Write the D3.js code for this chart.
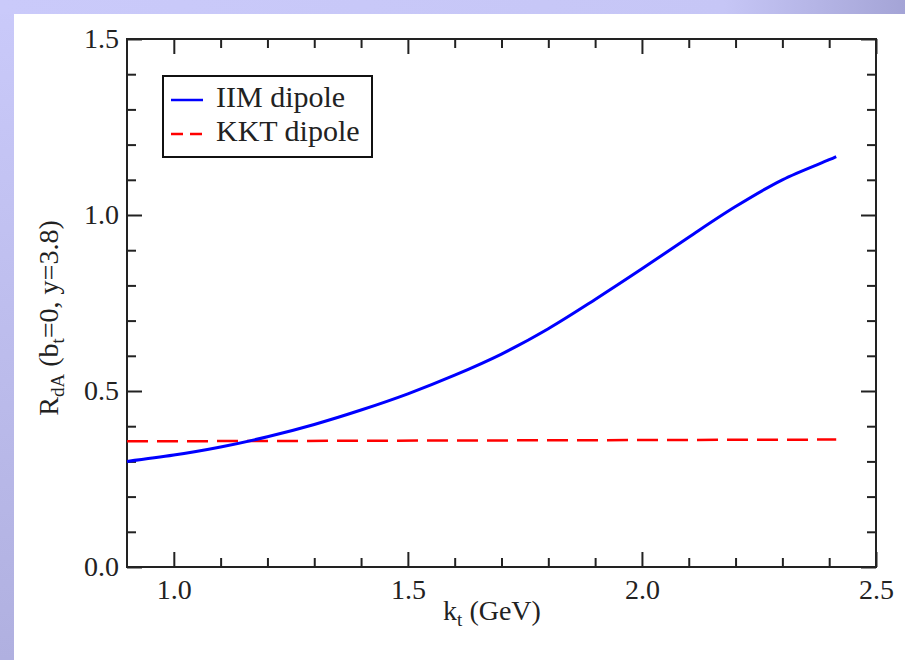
<!DOCTYPE html>
<html lang="en">
<head>
  <meta charset="UTF-8">
  <title>R_dA vs k_t</title>
  <script src="https://d3js.org/d3.v7.min.js"></script>
  <style>
    body, html {
      margin: 0;
      padding: 0;
      background: #fff;
    }
    svg {
      display: block;
    }
    .tick line, .frame {
      stroke: #222;
      stroke-width: 2px;
    }
  </style>
</head>
<body>
  <div id="chart"></div>

  <script>
    // k_t values (GeV) and the two curves
    const kt = [0.9, 1.0, 1.1, 1.2, 1.3, 1.4, 1.5, 1.6, 1.7, 1.8, 1.9, 2.0, 2.1, 2.2, 2.3, 2.4, 2.415];
    const iimDipole = [0.300, 0.318, 0.341, 0.370, 0.405, 0.446, 0.492, 0.545, 0.605, 0.677, 0.760, 0.847, 0.937, 1.024, 1.100, 1.157, 1.166];
    const ktKKT = [0.9, 2.415];
    const kktDipole = [0.357, 0.362];

    const xMajor = [1.0, 1.5, 2.0, 2.5];
    const xMinor = [1.1, 1.2, 1.3, 1.4, 1.6, 1.7, 1.8, 1.9, 2.1, 2.2, 2.3, 2.4];
    const yMajor = [0.0, 0.5, 1.0, 1.5];
    const yMinor = [0.1, 0.2, 0.3, 0.4, 0.6, 0.7, 0.8, 0.9, 1.1, 1.2, 1.3, 1.4];

    const legendLabels = ["IIM dipole", "KKT dipole"];

    const W = 905, H = 660;
    const pLeft = 127, pRight = 876, pTop = 39, pBottom = 567;
    const serif = '"Liberation Serif", "Times New Roman", serif';

    const svg = d3.select("#chart").append("svg")
      .attr("width", W)
      .attr("height", H);

    // slide-style lavender border
    const defs = svg.append("defs");
    const gTop = defs.append("linearGradient").attr("id", "gTop")
      .attr("x1", 0).attr("x2", 1).attr("y1", 0).attr("y2", 0);
    gTop.append("stop").attr("offset", "0%").attr("stop-color", "#cacafa");
    gTop.append("stop").attr("offset", "80%").attr("stop-color", "#c6c6f6");
    gTop.append("stop").attr("offset", "100%").attr("stop-color", "#a4a4d6");
    const gLeft = defs.append("linearGradient").attr("id", "gLeft")
      .attr("x1", 0).attr("x2", 0).attr("y1", 0).attr("y2", 1);
    gLeft.append("stop").attr("offset", "0%").attr("stop-color", "#cacafa");
    gLeft.append("stop").attr("offset", "100%").attr("stop-color", "#b0b0e0");

    svg.append("rect").attr("x", 0).attr("y", 0).attr("width", 14).attr("height", H).attr("fill", "url(#gLeft)");
    svg.append("rect").attr("x", 0).attr("y", 0).attr("width", W).attr("height", 14).attr("fill", "url(#gTop)");

    const x = d3.scaleLinear().domain([0.9, 2.5]).range([pLeft, pRight]);
    const y = d3.scaleLinear().domain([0, 1.5]).range([pBottom, pTop]);

    const fmt = d3.format(".1f");

    function axis(gen, ticks, size, labels, transform) {
      const g = svg.append("g")
        .attr("transform", transform)
        .call(gen.tickValues(ticks).tickSize(size).tickFormat(labels ? fmt : ""));
      g.select(".domain").remove();
      g.attr("font-family", serif).attr("font-size", 28);
      g.selectAll(".tick text").attr("fill", "#222");
      return g;
    }

    // bottom / top
    const xb = axis(d3.axisBottom(x), xMajor, -15, true, `translate(0,${pBottom})`);
    xb.selectAll(".tick text").attr("y", 12).attr("dy", "0.71em");
    axis(d3.axisBottom(x), xMinor, -9, false, `translate(0,${pBottom})`);
    axis(d3.axisTop(x), xMajor, -15, false, `translate(0,${pTop})`);
    axis(d3.axisTop(x), xMinor, -9, false, `translate(0,${pTop})`);

    // left / right
    const yl = axis(d3.axisLeft(y), yMajor, -15, true, `translate(${pLeft},0)`);
    yl.selectAll(".tick text").attr("x", -8);
    axis(d3.axisLeft(y), yMinor, -9, false, `translate(${pLeft},0)`);
    axis(d3.axisRight(y), yMajor, -15, false, `translate(${pRight},0)`);
    axis(d3.axisRight(y), yMinor, -9, false, `translate(${pRight},0)`);

    svg.append("rect").attr("class", "frame")
      .attr("x", pLeft).attr("y", pTop)
      .attr("width", pRight - pLeft).attr("height", pBottom - pTop)
      .attr("fill", "none");

    // curves
    const line = d3.line()
      .x(d => x(d[0]))
      .y(d => y(d[1]))
      .curve(d3.curveCatmullRom.alpha(0.5));

    svg.append("path")
      .datum(d3.zip(ktKKT, kktDipole))
      .attr("d", line)
      .attr("fill", "none")
      .attr("stroke", "#f00")
      .attr("stroke-width", 2.5)
      .attr("stroke-dasharray", "21,9");

    svg.append("path")
      .datum(d3.zip(kt, iimDipole))
      .attr("d", line)
      .attr("fill", "none")
      .attr("stroke", "#0000ff")
      .attr("stroke-width", 3);

    // axis titles
    svg.append("text")
      .attr("x", 492).attr("y", 620)
      .attr("text-anchor", "middle")
      .attr("font-family", serif)
      .attr("font-size", 28)
      .attr("fill", "#222")
      .html('k<tspan baseline-shift="-30%" font-size="19">t</tspan> (GeV)');

    svg.append("text")
      .attr("transform", "translate(58,318) rotate(-90)")
      .attr("text-anchor", "middle")
      .attr("font-family", serif)
      .attr("font-size", 28)
      .attr("fill", "#222")
      .html('R<tspan baseline-shift="-30%" font-size="19">dA</tspan> (b<tspan baseline-shift="-30%" font-size="19">t</tspan>=0, y=3.8)');

    // legend
    const legend = svg.append("g")
      .attr("font-family", serif)
      .attr("font-size", 30);
    legend.append("rect")
      .attr("x", 163).attr("y", 76)
      .attr("width", 209).attr("height", 81)
      .attr("fill", "#fff")
      .attr("stroke", "#111")
      .attr("stroke-width", 2);

    const legendStyle = [
      { color: "#0000ff", dash: null },
      { color: "#f00", dash: "12,7" }
    ];
    legendLabels.forEach((lab, i) => {
      const ly = 100 + i * 34;
      legend.append("line")
        .attr("x1", 171).attr("x2", 203)
        .attr("y1", ly).attr("y2", ly)
        .attr("stroke", legendStyle[i].color)
        .attr("stroke-width", 2.5)
        .attr("stroke-dasharray", legendStyle[i].dash);
      legend.append("text")
        .attr("x", 216).attr("y", ly + 7)
        .attr("fill", "#222")
        .text(lab);
    });
  </script>
</body>
</html>
